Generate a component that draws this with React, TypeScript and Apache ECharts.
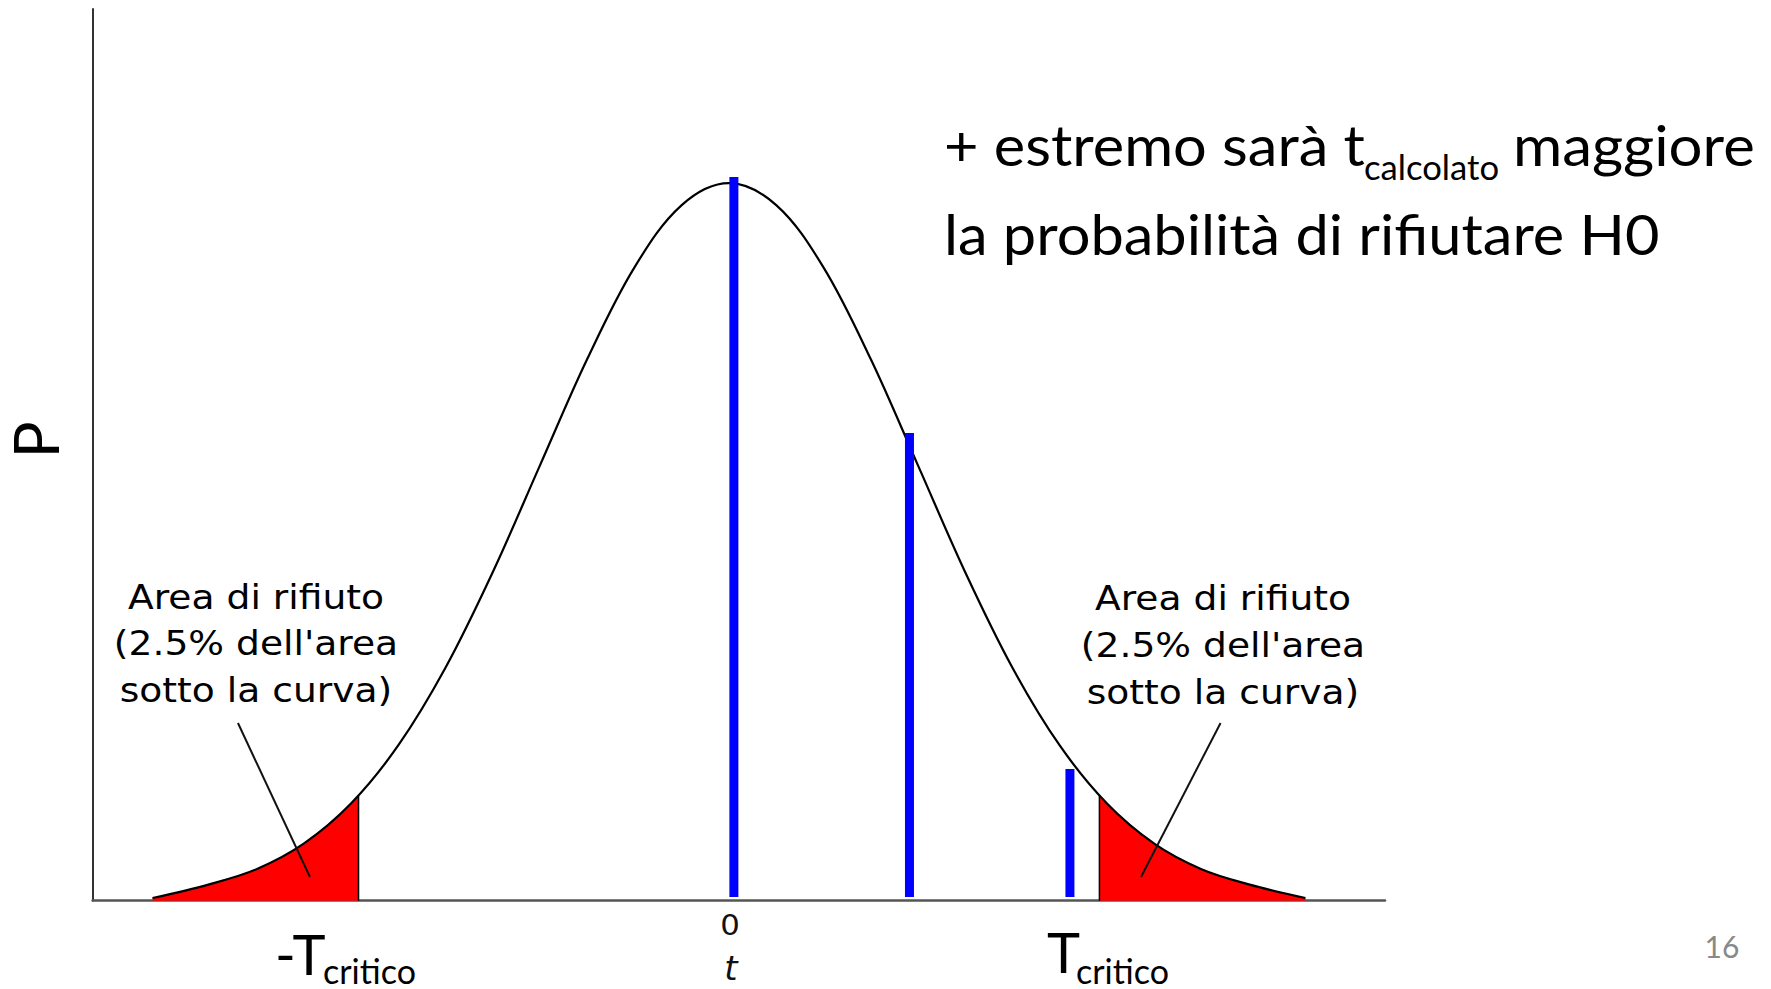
import React, { useEffect, useRef } from "react";
import * as echarts from "echarts";

// ---- data ----
const curveT = [-3.05, -2.75, -2.5, -2.25, -2, -1.75, -1.5, -1.25, -1, -0.75, -0.5, -0.25, 0, 0.25, 0.5, 0.75, 1, 1.25, 1.5, 1.75, 2, 2.25, 2.5, 2.75, 3.05];
const curveP = [0.0015, 0.0091, 0.0175, 0.0317, 0.054, 0.0863, 0.1295, 0.1826, 0.242, 0.3011, 0.3521, 0.3867, 0.3989, 0.3867, 0.3521, 0.3011, 0.242, 0.1826, 0.1295, 0.0863, 0.054, 0.0317, 0.0175, 0.0091, 0.0015];

const leftTailT = [-3.05, -2.75, -2.5, -2.25, -2, -1.96];
const leftTailP = [0.0015, 0.0091, 0.0175, 0.0317, 0.054, 0.0584];
const rightTailT = [1.96, 2, 2.25, 2.5, 2.75, 3.05];
const rightTailP = [0.0584, 0.054, 0.0317, 0.0175, 0.0091, 0.0015];

const criticalT = [-1.96, 1.96];
const criticalP = [0.0584, 0.0584];

// blue bars: t position and top value
const barT = [0.026, 0.955, 1.804];
const barTop = [0.4023, 0.26, 0.0732];
const barBase = 0.002;

// pointer lines of the "Area di rifiuto" notes: [t0, p0, t1, p1]
const pointerLeft = [-2.598, 0.0988, -2.217, 0.0132];
const pointerRight = [2.601, 0.0988, 2.18, 0.0132];

// axis ranges
const xMin = -3.367;
const xMax = 3.471;
const yMin = 0;
const yMax = 0.4957;

// texts
const headline1 = "+ estremo sarà t";
const headlineSub = "calcolato";
const headline1End = "maggiore";
const headline2 = "la probabilità di rifiutare H0";
const noteLines = ["Area di rifiuto", "(2.5% dell'area", "sotto la curva)"];
const tickZero = "0";
const xName = "t";
const yName = "P";
const critLeft = "-T";
const critRight = "T";
const critSub = "critico";
const pageNo = "16";

const zip = (a: number[], b: number[]) => a.map((v, i) => [v, b[i]]);

const LATO = "Lato, 'Noto Sans', sans-serif";
const DEJA = "'DejaVu Sans', Verdana, sans-serif";

function txt(
  text: string,
  x: number,
  y: number,
  size: number,
  family: string,
  o: { align?: string; scaleX?: number; rotation?: number; fill?: string; italic?: boolean } = {}
) {
  const align = o.align || "left";
  return {
    type: "text",
    x,
    y,
    scaleX: o.scaleX || 1,
    rotation: o.rotation || 0,
    silent: true,
    z: 100,
    style: {
      text,
      x: 0,
      y: 0,
      fontSize: size,
      fontFamily: family,
      fontStyle: o.italic ? "italic" : "normal",
      fill: o.fill || "#000",
      align,
      verticalAlign: "middle",
      textAlign: align,
      textVerticalAlign: "middle",
    },
  };
}

export default function App() {
  const ref = useRef<HTMLDivElement>(null);
  useEffect(() => {
    document.body.style.margin = "0";
    document.body.style.overflow = "hidden";
    const chart = echarts.init(ref.current as HTMLDivElement, null, { renderer: "svg" });

    const series: any[] = [];
    [zip(leftTailT, leftTailP), zip(rightTailT, rightTailP)].forEach((d) => {
      series.push({
        type: "line",
        data: d,
        smooth: 0.35,
        symbol: "none",
        lineStyle: { opacity: 0 },
        areaStyle: { color: "#ff0000", opacity: 1 },
        z: 1,
        silent: true,
      });
    });
    criticalT.forEach((t, i) => {
      series.push({
        type: "line",
        data: [
          [t, 0],
          [t, criticalP[i]],
        ],
        symbol: "none",
        lineStyle: { color: "#000", width: 1.5 },
        z: 2,
        silent: true,
      });
    });
    series.push({
      type: "line",
      data: zip(curveT, curveP),
      smooth: 0.35,
      symbol: "none",
      lineStyle: { color: "#000", width: 2.2 },
      z: 3,
      silent: true,
    });
    [pointerLeft, pointerRight].forEach((p) => {
      series.push({
        type: "line",
        data: [
          [p[0], p[1]],
          [p[2], p[3]],
        ],
        symbol: "none",
        lineStyle: { color: "#111", width: 2 },
        z: 4,
        silent: true,
      });
    });
    barT.forEach((t, i) => {
      series.push({
        type: "line",
        data: [
          [t, barBase],
          [t, barTop[i]],
        ],
        symbol: "none",
        lineStyle: { color: "#0000ff", width: 9, cap: "butt" },
        z: 5,
        silent: true,
      });
    });

    const noteScale = 1.14;
    const graphic: any[] = [
      txt(headline1, 944, 144, 56, LATO, { scaleX: 1.063 }),
      txt(headlineSub, 1364, 167, 34, LATO, { scaleX: 1.02 }),
      txt(headline1End, 1513, 144, 56, LATO, { scaleX: 1.07 }),
      txt(headline2, 944, 233, 56, LATO, { scaleX: 1.063 }),
      txt(yName, 35, 440, 62, LATO, { align: "center", rotation: Math.PI / 2 }),
      txt(critLeft, 275, 953, 56, LATO),
      txt(critSub, 323, 970, 34, LATO),
      txt(critRight, 1047, 951, 56, LATO),
      txt(critSub, 1076, 970, 34, LATO),
      txt(pageNo, 1722, 946, 30, LATO, { align: "center", fill: "#898989" }),
      txt(tickZero, 730, 925, 28, DEJA, { align: "center", scaleX: 1.1, fill: "#111" }),
      txt(xName, 731, 968, 34, DEJA, { align: "center", italic: true, fill: "#111" }),
    ];
    const leftBase = [597, 643.5, 690.5];
    const rightBase = [598.5, 645, 692];
    noteLines.forEach((l, i) => {
      graphic.push(txt(l, 256, leftBase[i], 33, DEJA, { align: "center", scaleX: noteScale, fill: "#000" }));
      graphic.push(txt(l, 1223, rightBase[i], 33, DEJA, { align: "center", scaleX: noteScale, fill: "#000" }));
    });

    chart.setOption({
      animation: false,
      backgroundColor: "#fff",
      grid: { left: 92.6, right: 386, top: 9, bottom: 88.3, containLabel: false },
      xAxis: {
        type: "value",
        min: xMin,
        max: xMax,
        axisLine: { show: true, onZero: false, lineStyle: { color: "#555", width: 2.5 } },
        axisTick: { show: false },
        axisLabel: { show: false },
        splitLine: { show: false },
      },
      yAxis: {
        type: "value",
        min: yMin,
        max: yMax,
        axisLine: { show: true, onZero: false, lineStyle: { color: "#333", width: 2 } },
        axisTick: { show: false },
        axisLabel: { show: false },
        splitLine: { show: false },
      },
      series,
      graphic,
    });
    return () => chart.dispose();
  }, []);
  return <div ref={ref} style={{ width: 1771, height: 989, background: "#fff" }} />;
}
